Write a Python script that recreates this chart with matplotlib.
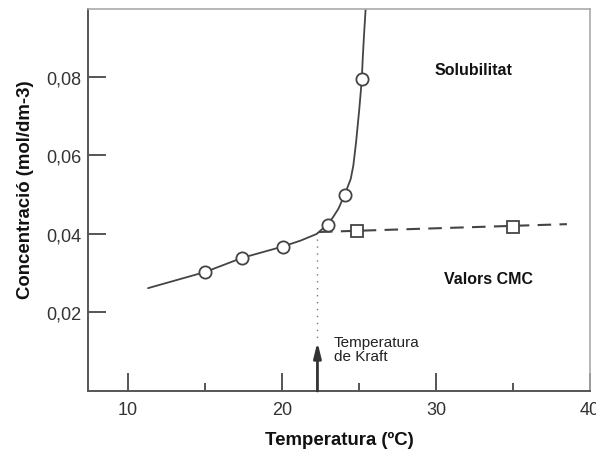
import matplotlib
matplotlib.use("Agg")
import matplotlib.pyplot as plt
from matplotlib.ticker import FixedLocator, FuncFormatter

plt.rcParams['font.family'] = ['Liberation Sans', 'DejaVu Sans']

# --- data ---
# solubility measurements (circles)
sol_x = [15.0, 17.4, 20.05, 23.0, 24.1, 25.2]
sol_y = [0.0303, 0.0340, 0.0368, 0.0422, 0.0500, 0.0795]
# solubility curve traced through the picture
curve_x = [11.3, 15.0, 17.4, 20.05, 21.2, 22.25, 22.94, 23.3, 23.66, 24.09,
           24.46, 24.63, 24.81, 25.02, 25.18, 25.24, 25.33, 25.43]
curve_y = [0.0262, 0.0303, 0.0339, 0.0368, 0.0383, 0.0400, 0.0424, 0.0442, 0.0464, 0.0502,
           0.0540, 0.0574, 0.0634, 0.0719, 0.0793, 0.0846, 0.0910, 0.0973]
# CMC measurements (squares) and dashed CMC line
cmc_x = [24.9, 35.0]
cmc_y = [0.0408, 0.0418]
cmc_line_x = [22.4, 38.5]
cmc_line_y = [0.0405, 0.0425]
# Krafft temperature
kraft_T = 22.3
kraft_c = 0.0405
arrow_top = 0.0125

xticks_major = [10, 20, 30, 40]
xticks_minor = [15, 25, 35]
yticks = [0.02, 0.04, 0.06, 0.08]

line_col = '#444444'

fig = plt.figure(figsize=(5.96, 4.52), dpi=100)
ax = fig.add_axes([88/596, 1 - 392/452, (590 - 88)/596, (392 - 10)/452])
ax.set_xlim(7.4, 40.0)
ax.set_ylim(0.0, 0.0973)

# solubility curve
ax.plot(curve_x, curve_y, color=line_col, lw=1.3, zorder=2,
        solid_joinstyle='round', solid_capstyle='round')
# CMC dashed line
ln, = ax.plot(cmc_line_x, cmc_line_y, color=line_col, lw=1.5, zorder=2)
ln.set_dashes([6.5, 4])
# markers
ax.plot(sol_x, sol_y, 'o', ms=8.8, mfc='white', mec=line_col, mew=1.3, zorder=3)
ax.plot(cmc_x, cmc_y, 's', ms=8.0, mfc='white', mec=line_col, mew=1.3, zorder=3)

# dotted vertical line and arrow at Krafft temperature
ax.plot([kraft_T, kraft_T], [kraft_c, arrow_top + 0.001], color='#777777', lw=1.0,
        ls=(0, (1, 4)), zorder=1)
ax.annotate('', xy=(kraft_T, arrow_top), xytext=(kraft_T, 0.0),
            arrowprops=dict(arrowstyle='-|>,head_length=0.9,head_width=0.22',
                            lw=2.0, color='#333333', shrinkA=0, shrinkB=0))
ax.text(23.35, 0.0143, 'Temperatura\nde Kraft', fontsize=11, color='#222222',
        ha='left', va='top', linespacing=1.0)

ax.text(32.4, 0.0818, 'Solubilitat', fontsize=11.5, fontweight='bold',
        color='#111111', ha='center', va='center')
ax.text(33.4, 0.0286, 'Valors CMC', fontsize=11.5, fontweight='bold',
        color='#111111', ha='center', va='center')

# axes styling
for s in ['left', 'bottom']:
    ax.spines[s].set_color('#555555')
    ax.spines[s].set_linewidth(1.4)
for s in ['top', 'right']:
    ax.spines[s].set_color('#aaaaaa')
    ax.spines[s].set_linewidth(1.2)

ax.xaxis.set_major_locator(FixedLocator(xticks_major))
ax.xaxis.set_minor_locator(FixedLocator(xticks_minor))
ax.yaxis.set_major_locator(FixedLocator(yticks))
ax.yaxis.set_major_formatter(FuncFormatter(lambda v, p: f'{v:.2f}'.replace('.', ',')))
ax.xaxis.set_major_formatter(FuncFormatter(lambda v, p: f'{v:.0f}'))

ax.tick_params(axis='x', which='major', direction='in', length=13, width=1.4,
               color='#555555', labelsize=13, labelcolor='#333333', pad=7)
ax.tick_params(axis='x', which='minor', direction='in', length=6, width=1.4,
               color='#555555')
ax.tick_params(axis='y', which='major', direction='in', length=13, width=1.4,
               color='#555555', labelsize=13, labelcolor='#333333', pad=5)

ax.set_xlabel('Temperatura (ºC)', fontsize=13.4, fontweight='bold', color='#111111',
              labelpad=9.5)
ax.set_ylabel('Concentració (mol/dm-3)', fontsize=13.4, fontweight='bold',
              color='#111111')
ax.yaxis.set_label_coords(-0.107, 0.529)

fig.savefig('out.png', dpi=100)
